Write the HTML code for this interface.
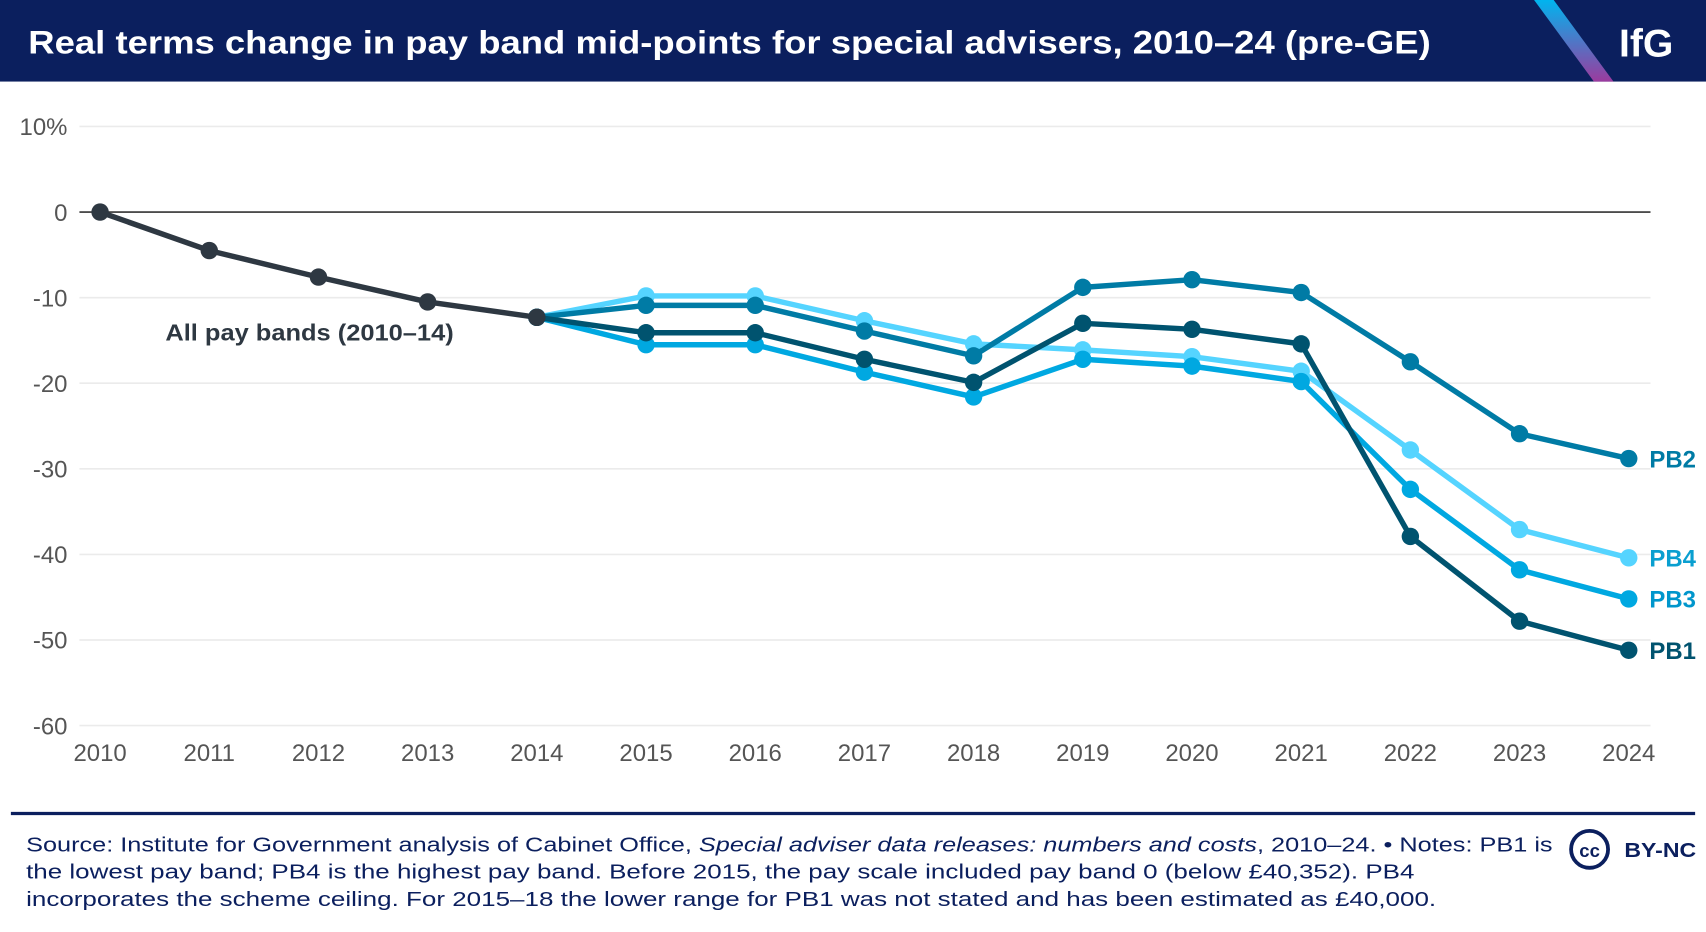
<!DOCTYPE html>
<html><head><meta charset="utf-8"><style>
html,body{margin:0;padding:0;background:#fff;}
svg{display:block;font-family:"Liberation Sans",sans-serif;}
</style></head><body>
<svg width="1706" height="932" viewBox="0 0 1568 857" preserveAspectRatio="none">
<defs><linearGradient id="g" x1="0" y1="0" x2="0" y2="1"><stop offset="0" stop-color="#00b4ef"/><stop offset="1" stop-color="#9b3b9e"/></linearGradient></defs>
<rect x="0" y="0" width="1568" height="75" fill="#0b1f5e"/>
<text x="26" y="49" fill="#fff" font-size="30" font-weight="bold" textLength="1289" lengthAdjust="spacingAndGlyphs">Real terms change in pay band mid-points for special advisers, 2010–24 (pre-GE)</text>
<polygon points="1410,0 1428,0 1483,75 1465,75" fill="url(#g)"/>
<text x="1488" y="52" fill="#fff" font-size="36" font-weight="bold">IfG</text>
<g id="grid"></g><g id="series"></g>
<line x1="10" y1="748" x2="1558" y2="748" stroke="#0b1f5e" stroke-width="3"/>
<g font-size="19" fill="#0b1f5e">
<text x="24" y="783" textLength="1403" lengthAdjust="spacingAndGlyphs">Source: Institute for Government analysis of Cabinet Office, <tspan font-style="italic">Special adviser data releases: numbers and costs</tspan>, 2010–24. • Notes: PB1 is</text>
<text x="24" y="808" textLength="1276" lengthAdjust="spacingAndGlyphs">the lowest pay band; PB4 is the highest pay band. Before 2015, the pay scale included pay band 0 (below £40,352). PB4</text>
<text x="24" y="833" textLength="1296" lengthAdjust="spacingAndGlyphs">incorporates the scheme ceiling. For 2015–18 the lower range for PB1 was not stated and has been estimated as £40,000.</text>
</g>
<circle cx="1461" cy="781" r="17" fill="none" stroke="#0b1f5e" stroke-width="3.5"/>
<text x="1461" y="788" text-anchor="middle" font-size="17" font-weight="bold" fill="#0b1f5e">cc</text>
<text x="1493" y="788" font-size="19" font-weight="bold" fill="#0b1f5e" textLength="66" lengthAdjust="spacingAndGlyphs">BY-NC</text>
</svg>
<script>
const years=[2010,2011,2012,2013,2014,2015,2016,2017,2018,2019,2020,2021,2022,2023,2024];
const yTicks=[10,0,-10,-20,-30,-40,-50,-60];
const yTickLabels=["10%","0","-10","-20","-30","-40","-50","-60"];
const allBands=[0,-4.5,-7.6,-10.5,-12.3];
const pb4=[null,null,null,null,-12.3,-9.8,-9.8,-12.7,-15.4,-16.1,-16.9,-18.6,-27.8,-37.1,-40.4];
const pb3=[null,null,null,null,-12.3,-15.5,-15.5,-18.7,-21.6,-17.2,-18.0,-19.8,-32.4,-41.8,-45.2];
const pb2=[null,null,null,null,-12.3,-10.9,-10.9,-13.9,-16.8,-8.8,-7.9,-9.4,-17.5,-25.9,-28.8];
const pb1=[null,null,null,null,-12.3,-14.1,-14.1,-17.2,-19.9,-13.0,-13.7,-15.4,-37.9,-47.8,-51.2];
const NS="http://www.w3.org/2000/svg";
const xS=y=>92+(y-2010)*(1497-92)/14;
const yS=v=>195-v*7.87;
function mk(t,a,p){const e=document.createElementNS(NS,t);for(const k in a)e.setAttribute(k,a[k]);p.appendChild(e);return e;}
const grid=document.getElementById('grid');
yTicks.forEach((v,i)=>{
 const l=mk('line',{x1:73,x2:1517,y1:yS(v),y2:yS(v),stroke:v===0?'#333':'#ebebeb','stroke-width':1.5},grid);
 
 
 const t=mk('text',{x:62,y:yS(v)+8,'text-anchor':'end','font-size':22,fill:'#555'},grid);
 t.textContent=yTickLabels[i];
 
 
});
years.forEach(y=>{
 const t=mk('text',{x:xS(y),y:700,'text-anchor':'middle','font-size':22,fill:'#555'},grid);
 t.textContent=y;
 
 
});
const ser=document.getElementById('series');
function draw(vals,color,name,label,lc){
 const g=mk('g',{},ser);
 
 
 const pts=[];vals.forEach((v,i)=>{if(v!==null)pts.push([xS(years[i]),yS(v)]);});
 mk('polyline',{points:pts.map(p=>p.join(',')).join(' '),fill:'none',stroke:color,'stroke-width':5,'stroke-linejoin':'round'},g);
 pts.forEach(p=>{const c=mk('circle',{cx:p[0],cy:p[1],r:8,fill:color},g);
  
  });
 if(label){const l=pts[pts.length-1];
  const t=mk('text',{x:1516,y:l[1]+8,'font-size':22,'font-weight':'bold',fill:lc||color},g);
  t.textContent=label;
  
  }
}
draw(pb4,'#55d4ff','pb4-line','PB4','#0a9fd0');
draw(pb3,'#00a8e1','pb3-line','PB3','#0096cc');
draw(pb2,'#007ba5','pb2-line','PB2');
draw(pb1,'#00536f','pb1-line','PB1');
draw(allBands,'#2e3842','all-bands-line',null);
const at=mk('text',{x:152,y:313,'font-size':21,'font-weight':'bold',fill:'#2e3842',textLength:265,lengthAdjust:'spacingAndGlyphs'},ser);
at.textContent='All pay bands (2010–14)';


</script>
</body></html>
